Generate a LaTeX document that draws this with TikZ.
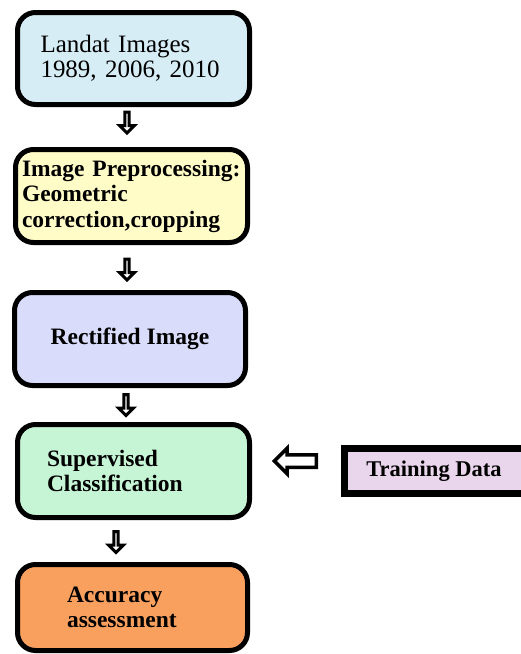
\documentclass[tikz,border=0pt]{standalone}
\usepackage{fontspec}
\setmainfont{Liberation Serif}
\usepackage{xcolor}
\usepackage{tikz}
\usetikzlibrary{shapes.arrows}

\definecolor{skyfill}{HTML}{D6EDF5}
\definecolor{creamfill}{HTML}{FFFCC8}
\definecolor{lilacfill}{HTML}{D9DCFA}
\definecolor{mintfill}{HTML}{C6F5D6}
\definecolor{orangefill}{HTML}{F9A05F}
\definecolor{pinkfill}{HTML}{E9D6EC}

\tikzset{
  stage/.style={draw=black, line width=5pt, rounded corners=18pt,
    minimum width=232pt, minimum height=93pt, inner sep=0pt, align=left,
    font=\fontsize{23.5}{25.5}\selectfont\bfseries},
  databox/.style={draw=black, line width=7pt, fill=pinkfill,
    minimum width=180pt, minimum height=45pt, inner sep=0pt,
    font=\fontsize{22.5}{25.5}\selectfont\bfseries},
  flowarrow/.style={single arrow, draw=black, fill=white,
    inner sep=0pt, single arrow head indent=0pt},
  downarrow/.style={flowarrow, shape border rotate=270, line width=3pt,
    minimum height=21pt, minimum width=15pt, text height=7pt, text depth=0pt,
    single arrow head extend=4pt},
  leftarrow/.style={flowarrow, shape border rotate=180, line width=3.5pt,
    minimum height=42pt, minimum width=22pt, text height=9pt, text depth=0pt,
    single arrow head extend=6.5pt}
}

\begin{document}
\begin{tikzpicture}[x=1pt,y=-1pt]
\useasboundingbox (0,0) rectangle (520,654);

    % the five processing stages
    \node[stage, fill=skyfill, text width=186pt, minimum height=92pt,
      font=\fontsize{25}{25}\selectfont] (landsat) at (133.5,58.5)
      {Landat Images\\1989, 2006, 2010};
    \node[stage, fill=creamfill, text width=219pt] (preproc) at (131.5,196)
      {Image Preprocessing:\\Geometric\\correction,cropping};
    \node[stage, fill=lilacfill, minimum width=231pt,
      align=center] (rectified) at (130,339) {Rectified Image};
    \node[stage, fill=mintfill, text width=173pt]
      (classify) at (133.5,471) {Supervised\\Classification};
    \node[stage, fill=orangefill, text width=131pt, minimum width=230pt,
      minimum height=86pt] (accuracy) at (132.5,607.5) {Accuracy\\assessment};

    % side input
    \node[databox] (training) at (434,471) {Training Data};

    % block arrows between the stages
    \node[downarrow] (arrowA) at (127,121.5) {};
    \node[downarrow] (arrowB) at (127,268.5) {};
    \node[downarrow] (arrowC) at (126,404) {};
    \node[downarrow] (arrowD) at (116,541) {};
    \node[leftarrow] (arrowE) at (298.5,461) {};

\end{tikzpicture}
\end{document}
